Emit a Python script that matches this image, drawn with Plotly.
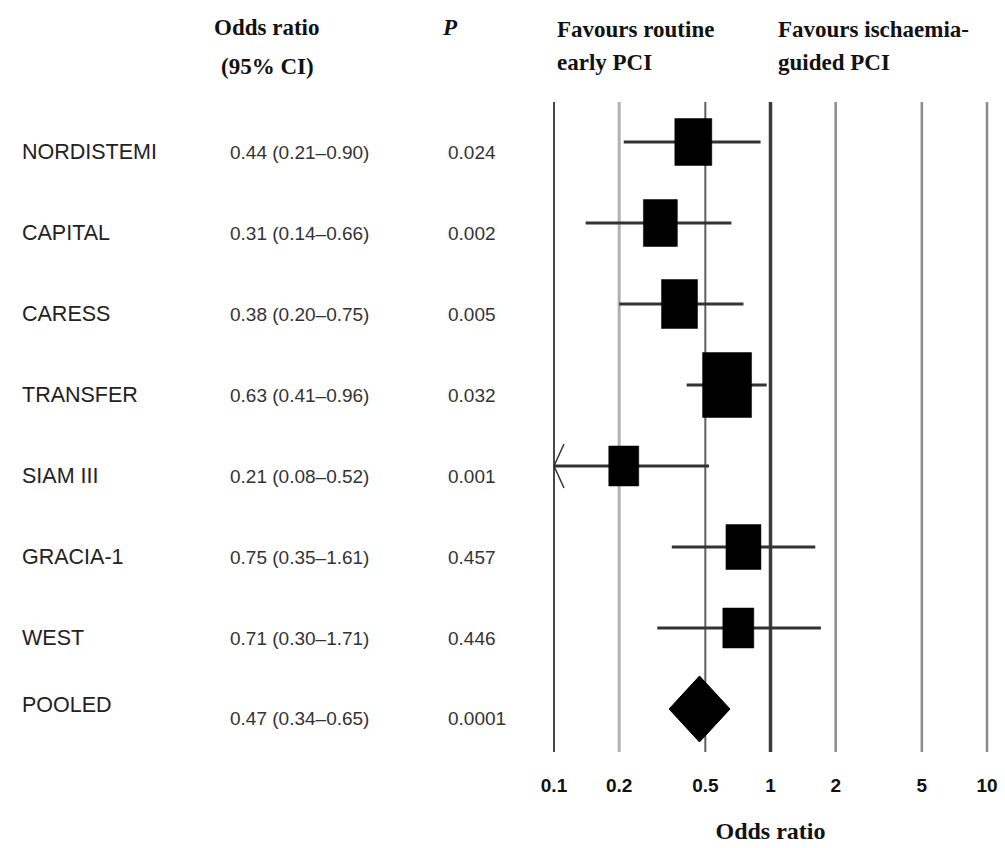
import plotly.graph_objects as go

# ---------------- data ----------------
studies = ["NORDISTEMI", "CAPITAL", "CARESS", "TRANSFER", "SIAM III", "GRACIA-1", "WEST"]
or_vals = [0.44, 0.31, 0.38, 0.63, 0.21, 0.75, 0.71]
ci_lo = [0.21, 0.14, 0.20, 0.41, 0.08, 0.35, 0.30]
ci_hi = [0.90, 0.66, 0.75, 0.96, 0.52, 1.61, 1.71]
p_vals = ["0.024", "0.002", "0.005", "0.032", "0.001", "0.457", "0.446"]

pooled_label = "POOLED"
pooled_or = 0.47
pooled_lo = 0.34
pooled_hi = 0.65
pooled_p = "0.0001"

tick_vals = [0.1, 0.2, 0.5, 1, 2, 5, 10]
tick_text = ["0.1", "0.2", "0.5", "1", "2", "5", "10"]
x_min, x_max = 0.1, 10

# ---------------- layout geometry / styles ----------------
W, H = 1005, 848
OFF = 8                            # page body margin
PW, PH = 441, 652
L, T = 550 - OFF, 100 - OFF
R, B = W - L - PW, H - T - PH
DEC = 216.5                        # pixels per decade
ROWPX = 81                         # pixels per row
n_rows = len(studies) + 1
y_top = -42 / ROWPX
y_bot = (n_rows - 1) + 43 / ROWPX

box_px = [(37, 47), (34, 47), (36, 49), (49, 65), (30, 40), (35, 45), (31, 40)]
grid_style = {0.1: ("#484848", 2), 0.2: ("#b2b2b2", 3), 0.5: ("#5e5e5e", 2),
              1: ("#3c3c3c", 3.5), 2: ("#8c8c8c", 2.5), 5: ("#8c8c8c", 2.5), 10: ("#8c8c8c", 2.5)}
ci_color = "#333333"

SANS = "Liberation Sans, Arial, sans-serif"
SERIF = "Liberation Serif, Times New Roman, serif"


def px_x(px):
    return (px - OFF - L) / PW


def px_y(py):
    return 1 - (py - OFF - T) / PH


fig = go.Figure()

# vertical reference lines
for v in tick_vals:
    col, w = grid_style[v]
    fig.add_trace(go.Scatter(x=[v, v], y=[y_top + 2 / ROWPX, y_bot], mode="lines",
                             line=dict(color=col, width=w), hoverinfo="skip", showlegend=False))

# confidence intervals
for i, (lo, hi) in enumerate(zip(ci_lo, ci_hi)):
    lo_c = max(lo, x_min)
    fig.add_trace(go.Scatter(x=[lo_c, hi], y=[i, i], mode="lines",
                             line=dict(color=ci_color, width=3), hoverinfo="skip", showlegend=False))
    if lo < x_min:
        f = 10 ** (10 / DEC)
        fig.add_trace(go.Scatter(x=[x_min * f, x_min, x_min * f], y=[i - 22 / ROWPX, i, i + 22 / ROWPX],
                                 mode="lines", line=dict(color=ci_color, width=1.5),
                                 hoverinfo="skip", showlegend=False))

# study boxes (filled polygons around each odds ratio)
for i, (v, (bw, bh)) in enumerate(zip(or_vals, box_px)):
    fx = 10 ** (bw / 2 / DEC)
    dy = bh / 2 / ROWPX
    fig.add_trace(go.Scatter(x=[v / fx, v * fx, v * fx, v / fx, v / fx],
                             y=[i - dy, i - dy, i + dy, i + dy, i - dy],
                             mode="lines", fill="toself", fillcolor="black",
                             line=dict(color="black", width=0.5), hoverinfo="skip", showlegend=False))

# pooled diamond
pr = n_rows - 1
hh = 33 / ROWPX
fig.add_trace(go.Scatter(x=[pooled_lo, pooled_or, pooled_hi, pooled_or, pooled_lo],
                         y=[pr, pr - hh, pr, pr + hh, pr], mode="lines", fill="toself",
                         fillcolor="black", line=dict(color="black", width=1),
                         hoverinfo="skip", showlegend=False))

# left-hand text columns
labels = studies + [pooled_label]
or_texts = [f"{o:.2f} ({l:.2f}\u2013{h:.2f})" for o, l, h in zip(or_vals, ci_lo, ci_hi)]
or_texts.append(f"{pooled_or:.2f} ({pooled_lo:.2f}\u2013{pooled_hi:.2f})")
p_texts = p_vals + [pooled_p]

for i in range(n_rows):
    name_off = 10 if i < n_rows - 1 else -4
    val_off = 10 if i < n_rows - 1 else 9
    fig.add_annotation(x=px_x(20), xref="paper", y=i + name_off / ROWPX, yref="y",
                       text=labels[i], showarrow=False, xanchor="left", yanchor="middle",
                       font=dict(family=SANS, size=21.5, color="#222222"))
    fig.add_annotation(x=px_x(228), xref="paper", y=i + val_off / ROWPX, yref="y",
                       text=or_texts[i], showarrow=False, xanchor="left", yanchor="middle",
                       font=dict(family=SANS, size=19, color="#333333"))
    fig.add_annotation(x=px_x(446), xref="paper", y=i + val_off / ROWPX, yref="y",
                       text=p_texts[i], showarrow=False, xanchor="left", yanchor="middle",
                       font=dict(family=SANS, size=19, color="#333333"))

# headers
hdr_font = dict(family=SERIF, size=23, color="#111111")
headers = [
    ("<b>Odds ratio</b>", 266, 27, "center"),
    ("<b>(95% CI)</b>", 267, 67, "center"),
    ("<b><i>P</i></b>", 450, 27, "center"),
    ("<b>Favours routine</b>", 555, 29, "left"),
    ("<b>early PCI</b>", 555, 62, "left"),
    ("<b>Favours ischaemia-</b>", 776, 29, "left"),
    ("<b>guided PCI</b>", 776, 62, "left"),
]
for txt, px, py, anc in headers:
    fig.add_annotation(x=px_x(px), xref="paper", y=px_y(py), yref="paper", text=txt,
                       showarrow=False, xanchor=anc, yanchor="middle", font=hdr_font)

fig.update_layout(
    width=W, height=H, margin=dict(l=L, r=R, t=T, b=B),
    paper_bgcolor="white", plot_bgcolor="white", showlegend=False,
    xaxis=dict(type="log", range=[-1 - 4 / DEC, 1 + 4 / DEC], tickvals=tick_vals, ticktext=tick_text,
               showgrid=False, zeroline=False, showline=False, ticks="", automargin=False,
               ticklabelstandoff=20,
               tickfont=dict(family=SANS, size=19, color="#111111", weight="bold"),
               title=dict(text="<b>Odds ratio</b>", standoff=27,
                          font=dict(family=SERIF, size=24, color="#111111"))),
    yaxis=dict(range=[y_bot, y_top], showgrid=False, zeroline=False, showline=False,
               showticklabels=False, ticks="", automargin=False),
)

fig.write_html("out.html")
